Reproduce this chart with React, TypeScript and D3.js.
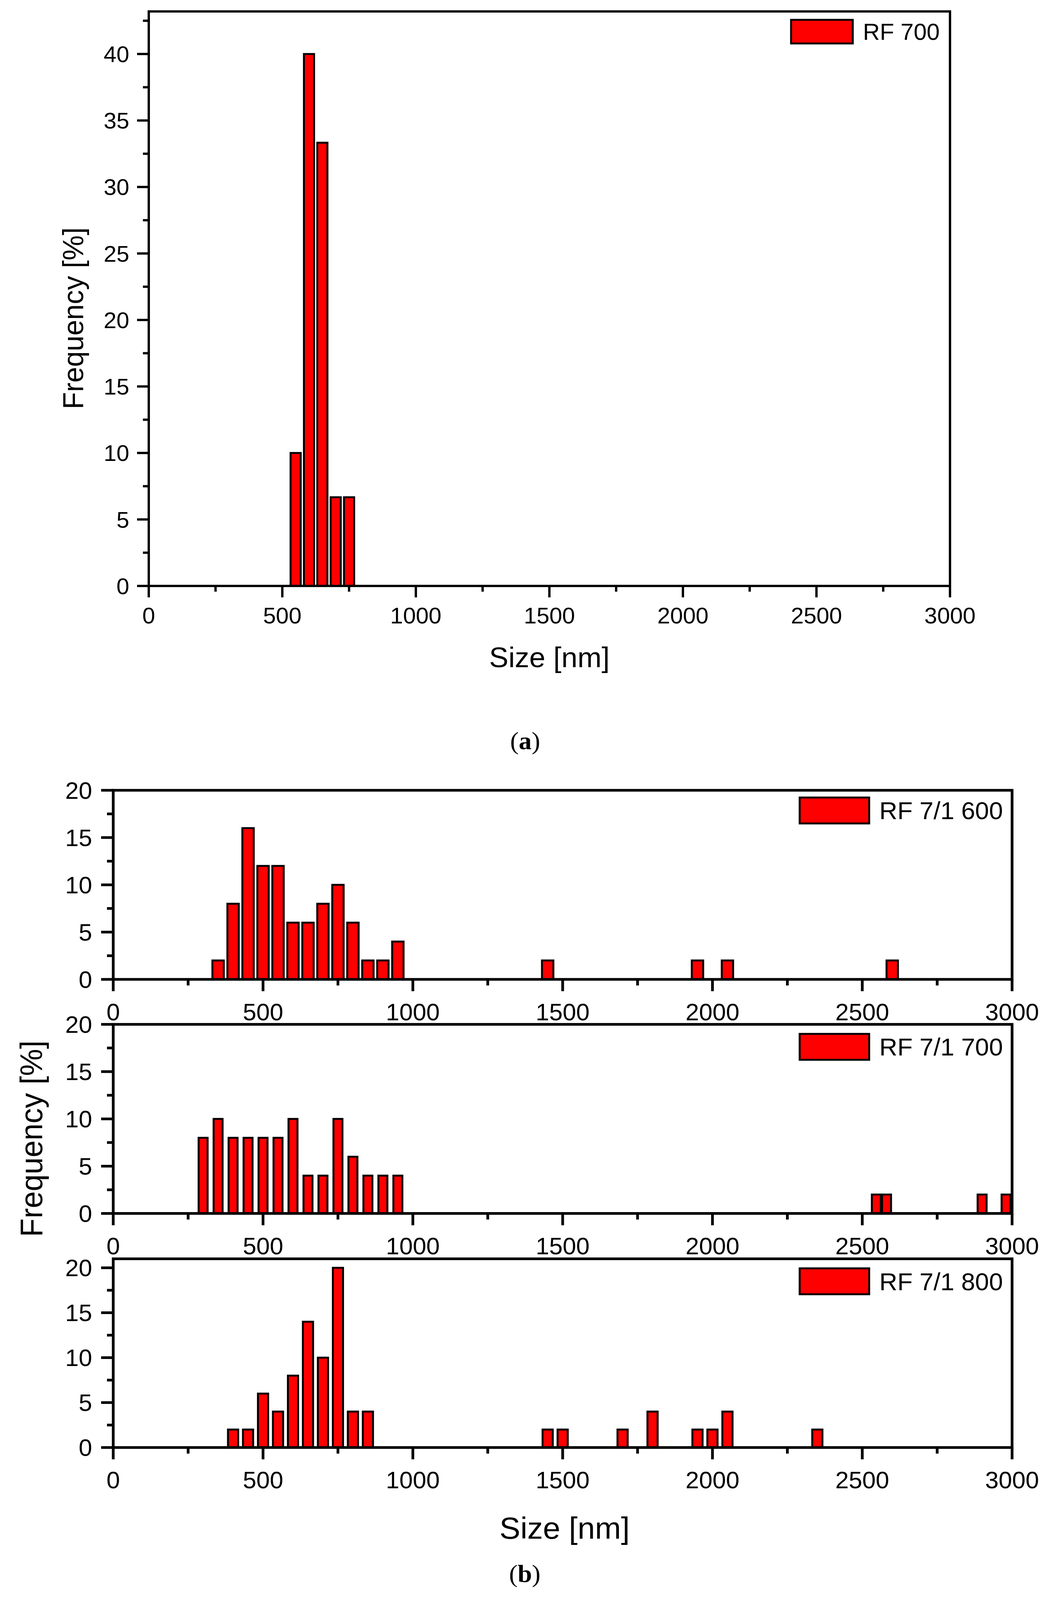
import React from "react";
import * as d3 from "d3";

// ---------- data ----------
const xTickValues = [0, 500, 1000, 1500, 2000, 2500, 3000];
const yTicksA = [0, 5, 10, 15, 20, 25, 30, 35, 40];
const yTicksB = [0, 5, 10, 15, 20];

const sizesA = [550, 600, 650, 700, 750];
const freqA = [10, 40, 33.33, 6.67, 6.67];

const sizesB600 = [350, 400, 450, 500, 550, 600, 650, 700, 750, 800, 850, 900, 950, 1450, 1950, 2050, 2600];
const freqB600 = [2, 8, 16, 12, 12, 6, 6, 8, 10, 6, 2, 2, 4, 2, 2, 2, 2];

const sizesB700 = [300, 350, 400, 450, 500, 550, 600, 650, 700, 750, 800, 850, 900, 950, 2547, 2581, 2900, 2980];
const freqB700 = [8, 10, 8, 8, 8, 8, 10, 4, 4, 10, 6, 4, 4, 4, 2, 2, 2, 2];

const sizesB800 = [400, 450, 500, 550, 600, 650, 700, 750, 800, 850, 1450, 1500, 1700, 1800, 1950, 2000, 2050, 2350];
const freqB800 = [2, 2, 6, 4, 8, 14, 10, 20, 4, 4, 2, 2, 2, 4, 2, 2, 4, 2];

const labelA = "RF 700";
const labelB600 = "RF 7/1 600";
const labelB700 = "RF 7/1 700";
const labelB800 = "RF 7/1 800";

const xTitle = "Size [nm]";
const yTitle = "Frequency [%]";

const SANS = "'Liberation Sans', Arial, Helvetica, sans-serif";
const SERIF = "'Liberation Serif', 'Times New Roman', serif";

type PanelProps = {
  id: string;
  left: number;
  right: number;
  top: number;
  bottom: number;
  yMax: number;
  yTicks: number[];
  sizes: number[];
  freqs: number[];
  barNm: number;
  axisW: number;
  barStroke: number;
  tickFont: number;
  majorLen: number;
  minorLen: number;
  xLabelOffset: number;
  yLabelGap: number;
  legend: string;
  legendBoxX: number;
  legendBoxDy: number;
  legendBoxW: number;
  legendBoxH: number;
  legendTextX: number;
  legendFont: number;
};

function Panel(p: PanelProps) {
  const xs = d3.scaleLinear().domain([0, 3000]).range([p.left, p.right]);
  const ys = d3.scaleLinear().domain([0, p.yMax]).range([p.bottom, p.top]);
  const barW = xs(p.barNm) - xs(0);
  const xMinor = d3.range(250, 3000, 500);
  const yMinor = d3.range(2.5, p.yMax, 5);
  const legY = p.top + p.legendBoxDy;
  return (
    <g>
      <defs>
        <clipPath id={p.id}>
          <rect x={p.left} y={p.top - 20} width={p.right - p.left} height={p.bottom - p.top + 20} />
        </clipPath>
      </defs>
      <g clipPath={`url(#${p.id})`}>
        {p.sizes.map((s, i) => (
          <rect
            key={i}
            x={xs(s) - barW / 2}
            y={ys(p.freqs[i])}
            width={barW}
            height={ys(0) - ys(p.freqs[i])}
            fill="#ff0000"
            stroke="#000"
            strokeWidth={p.barStroke}
          />
        ))}
      </g>
      <rect
        x={p.left}
        y={p.top}
        width={p.right - p.left}
        height={p.bottom - p.top}
        fill="none"
        stroke="#000"
        strokeWidth={p.axisW}
      />
      {xTickValues.map((v) => (
        <g key={"xt" + v}>
          <line x1={xs(v)} x2={xs(v)} y1={p.bottom} y2={p.bottom + p.majorLen} stroke="#000" strokeWidth={p.axisW} />
          <text
            x={xs(v)}
            y={p.bottom + p.xLabelOffset}
            textAnchor="middle"
            fontFamily={SANS}
            fontSize={p.tickFont}
            fill="#000"
          >
            {v}
          </text>
        </g>
      ))}
      {xMinor.map((v) => (
        <line key={"xm" + v} x1={xs(v)} x2={xs(v)} y1={p.bottom} y2={p.bottom + p.minorLen} stroke="#000" strokeWidth={p.axisW} />
      ))}
      {p.yTicks.map((v) => (
        <g key={"yt" + v}>
          <line x1={p.left - p.majorLen} x2={p.left} y1={ys(v)} y2={ys(v)} stroke="#000" strokeWidth={p.axisW} />
          <text
            x={p.left - p.majorLen - p.yLabelGap}
            y={ys(v)}
            dy="0.36em"
            textAnchor="end"
            fontFamily={SANS}
            fontSize={p.tickFont}
            fill="#000"
          >
            {v}
          </text>
        </g>
      ))}
      {yMinor.map((v) => (
        <line key={"ym" + v} x1={p.left - p.minorLen} x2={p.left} y1={ys(v)} y2={ys(v)} stroke="#000" strokeWidth={p.axisW} />
      ))}
      <rect
        x={p.legendBoxX}
        y={legY}
        width={p.legendBoxW}
        height={p.legendBoxH}
        fill="#ff0000"
        stroke="#000"
        strokeWidth={p.barStroke}
      />
      <text
        x={p.legendTextX}
        y={legY + p.legendBoxH / 2}
        dy="0.36em"
        fontFamily={SANS}
        fontSize={p.legendFont}
        fill="#000"
      >
        {p.legend}
      </text>
    </g>
  );
}

export default function App() {
  const W = 2684;
  const H = 4197;
  const common = {
    left: 290,
    right: 2592,
    axisW: 7,
    barStroke: 5,
    tickFont: 62,
    majorLen: 31,
    minorLen: 16,
    xLabelOffset: 107,
    yLabelGap: 23,
    legendBoxX: 2048,
    legendBoxDy: 22,
    legendBoxW: 178,
    legendBoxH: 68,
    legendTextX: 2252,
    legendFont: 64,
    yTicks: yTicksB,
  };
  return (
    <svg
      viewBox={`0 0 ${W} ${H}`}
      preserveAspectRatio="none"
      style={{ position: "fixed", left: 0, top: 0, width: "100vw", height: "100vh", background: "#fff", display: "block" }}
    >
      <rect x={0} y={0} width={W} height={H} fill="#fff" />
      {/* Panel (a) */}
      <Panel
        id="clipA"
        left={381}
        right={2433}
        top={30}
        bottom={1537}
        yMax={43.2}
        yTicks={yTicksA}
        sizes={sizesA}
        freqs={freqA}
        barNm={38}
        axisW={6}
        barStroke={5}
        tickFont={59}
        majorLen={30}
        minorLen={15}
        xLabelOffset={98}
        yLabelGap={20}
        legend={labelA}
        legendBoxX={2026}
        legendBoxDy={22}
        legendBoxW={158}
        legendBoxH={62}
        legendTextX={2210}
        legendFont={60}
      />
      <text x={1407} y={1750} textAnchor="middle" fontFamily={SANS} fontSize={74} fill="#000">
        {xTitle}
      </text>
      <text transform="translate(213,835) rotate(-90)" textAnchor="middle" fontFamily={SANS} fontSize={74} fill="#000">
        {yTitle}
      </text>
      <text x={1345} y={1965} textAnchor="middle" fontFamily={SERIF} fontSize={66} fill="#000">
        (<tspan fontWeight="bold">a</tspan>)
      </text>

      {/* Panel (b) */}
      <Panel id="clipB1" {...common} top={2073} bottom={2569} yMax={20} sizes={sizesB600} freqs={freqB600} barNm={38} legend={labelB600} legendBoxDy={19} />
      <Panel id="clipB2" {...common} top={2687} bottom={3183} yMax={20} sizes={sizesB700} freqs={freqB700} barNm={30} legend={labelB700} legendBoxDy={25} />
      <Panel id="clipB3" {...common} top={3302} bottom={3797} yMax={21} sizes={sizesB800} freqs={freqB800} barNm={34} legend={labelB800} legendBoxDy={25} />
      <text x={1446} y={4036} textAnchor="middle" fontFamily={SANS} fontSize={80} fill="#000">
        {xTitle}
      </text>
      <text transform="translate(108,2987) rotate(-90)" textAnchor="middle" fontFamily={SANS} fontSize={80} fill="#000">
        {yTitle}
      </text>
      <text x={1344} y={4150} textAnchor="middle" fontFamily={SERIF} fontSize={66} fill="#000">
        (<tspan fontWeight="bold">b</tspan>)
      </text>
    </svg>
  );
}
